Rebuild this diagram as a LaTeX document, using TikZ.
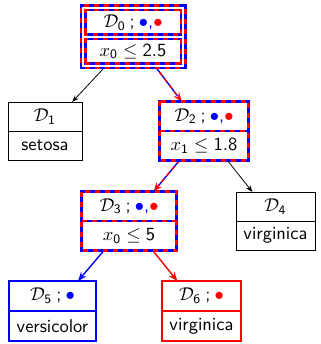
\documentclass[tikz,border=0pt]{standalone}
\usetikzlibrary{arrows.meta,calc}

\tikzset{
  txt/.style={font=\sffamily, inner sep=0pt, scale=1.85},
  boxshape/.style={minimum width=#1, inner sep=0pt, outer sep=0pt},
  plainframe/.style={draw=black, line width=0.8pt},
  blueframe/.style={draw=blue, line width=2.6pt},
  redframe/.style={draw=red, line width=2.6pt},
  mixframe/.style={line width=2.8pt, draw=red, dash pattern=on 5pt off 5pt,
    preaction={draw=blue, solid, line width=2.8pt}},
  doubleframe/.style={line width=7pt, draw=red, dash pattern=on 5pt off 5pt,
    preaction={draw=blue, solid, line width=7pt},
    postaction={draw=white, solid, line width=2.2pt}},
  blackedge/.style={draw=black, line width=0.8pt, -{Stealth[length=7pt,width=5pt]}},
  blueedge/.style={draw=blue, line width=1.4pt, -{Stealth[length=9pt,width=7pt]}},
  rededge/.style={draw=red, line width=1.4pt, -{Stealth[length=9pt,width=7pt]}},
  mixedge/.style={draw=red, line width=1.4pt, dash pattern=on 4pt off 4pt,
    -{Stealth[length=9pt,width=7pt]},
    preaction={draw=blue, solid, line width=1.4pt, -, shorten >=7pt}},
}

% a two-part box: name, centre, width, height, upper text, lower text
\newcommand\treebox[6]{%
  \node[boxshape=#3, minimum height=#4] (#1) at (#2) {};
  \node[txt] (#1t) at ($(#1.north)!0.5!(#1.center)$) {#5};
  \node[txt] (#1b) at ($(#1.south)!0.5!(#1.center)$) {#6};
}
\newcommand\boxoutline[2]{%
  \draw[#2] (#1.north west) rectangle (#1.south east) (#1.west) -- (#1.east);
}
\newcommand\bb{{\color{blue}$\bullet$}}
\newcommand\rb{{\color{red}$\bullet$}}
\newcommand\sep{\hspace{0.22em};\hspace{0.22em}}

\begin{document}
\begin{tikzpicture}[x=1pt, y=-1pt]
  \useasboundingbox (0,0) rectangle (320,344);

  \treebox{n0}{133,37}{100pt}{58pt}
    {$\mathcal{D}_{\mathsf{0}}$\sep\bb{\color{blue},}\rb}{$x_{\mathsf{0}} \leq \mathsf{2.5}$}
  \treebox{n1}{45,131}{74pt}{58pt}
    {$\mathcal{D}_{\mathsf{1}}$}{setosa}
  \treebox{n2}{204,131}{89pt}{59pt}
    {$\mathcal{D}_{\mathsf{2}}$\sep\bb{\color{blue},}\rb}{$x_{\mathsf{1}} \leq \mathsf{1.8}$}
  \treebox{n3}{129,221}{95pt}{59pt}
    {$\mathcal{D}_{\mathsf{3}}$\sep\bb{\color{blue},}\rb}{$x_{\mathsf{0}} \leq \mathsf{5}$}
  \treebox{n4}{275.5,221}{79pt}{58pt}
    {$\mathcal{D}_{\mathsf{4}}$}{virginica}
  \treebox{n5}{52.5,311}{87pt}{60pt}
    {$\mathcal{D}_{\mathsf{5}}$\sep\bb}{versicolor}
  \treebox{n6}{201.5,311}{79pt}{60pt}
    {$\mathcal{D}_{\mathsf{6}}$\sep\rb}{virginica}

  % connectors
  \draw[blackedge] (n0) -- (n1);
  \draw[mixedge] (n0) -- (n2);
  \draw[mixedge] (n2) -- (n3);
  \draw[blackedge] (n2) -- (n4);
  \draw[blueedge] (n3) -- (n5);
  \draw[rededge] (n3) -- (n6);

  % box outlines
  \boxoutline{n0}{doubleframe}
  \boxoutline{n1}{plainframe}
  \boxoutline{n2}{mixframe}
  \boxoutline{n3}{mixframe}
  \boxoutline{n4}{plainframe}
  \boxoutline{n5}{blueframe}
  \boxoutline{n6}{redframe}
\end{tikzpicture}
\end{document}
